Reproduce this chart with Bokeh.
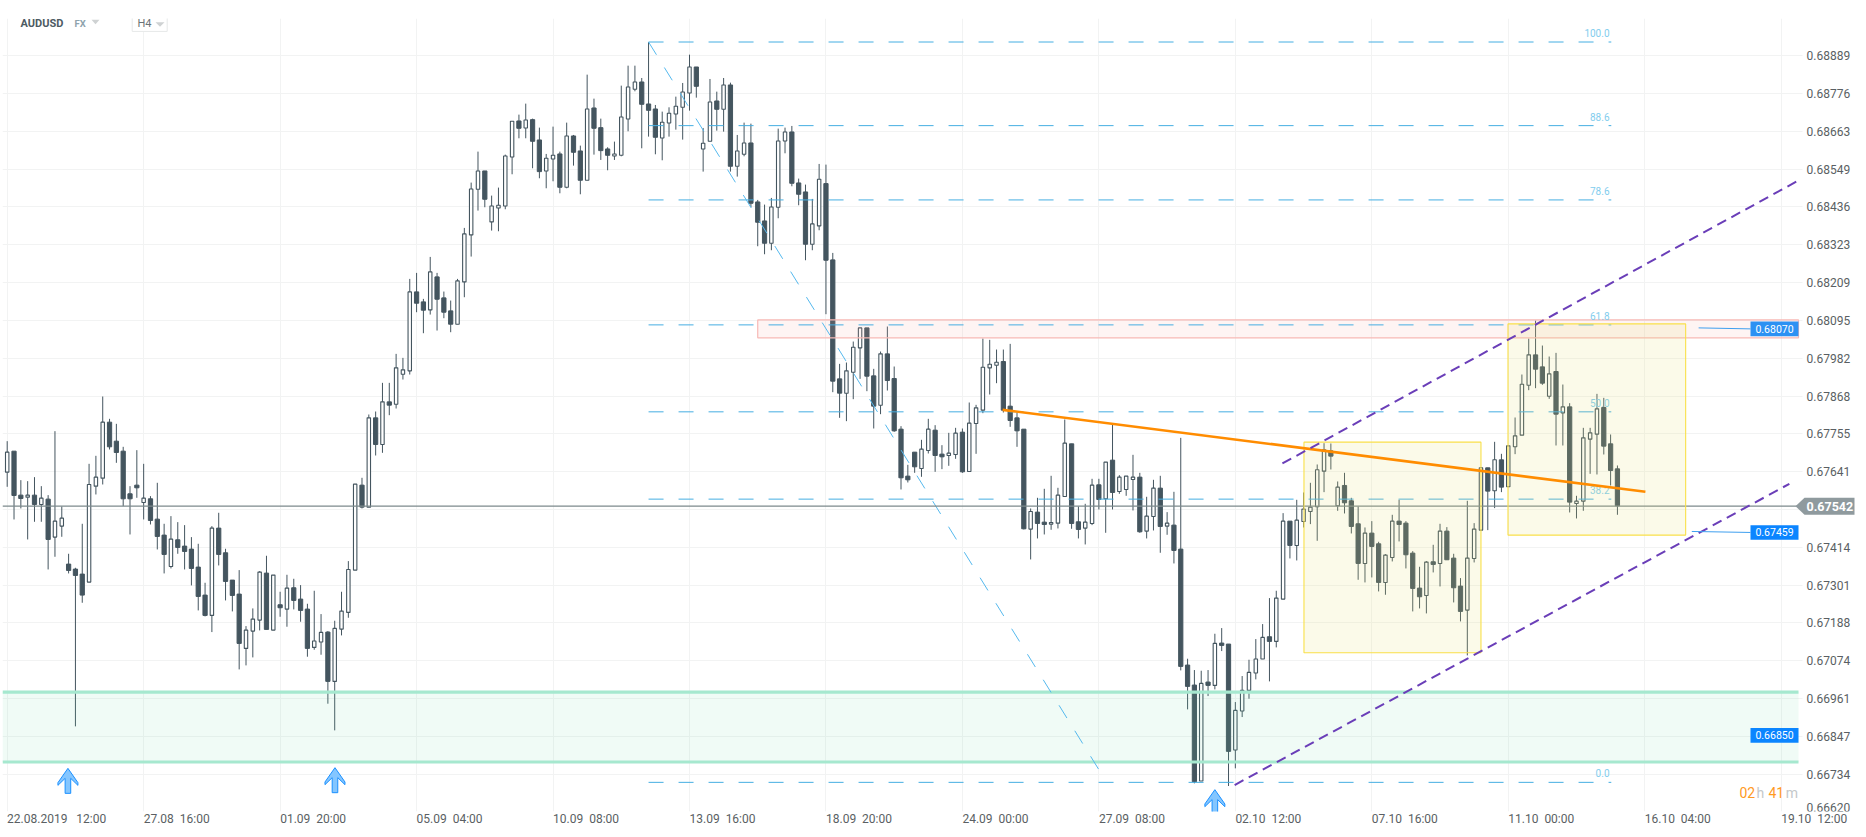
from bokeh.plotting import figure
from bokeh.models import Range1d, FixedTicker
from bokeh.core.properties import value
from bokeh.embed import file_html
from bokeh.resources import INLINE
import numpy as np

# Candles, in units of 0.00001 (bar 0 = 22.08.2019 12:00, 4-hour bars)
open_pts = [
67640,67703,67571,67565,67571,67543,67559,67445,67478,67364,67349,67334,67310,67598,67622,67790,67733,67703,67575,67601,
67549,67560,67499,67451,67357,67437,67418,67409,67355,67271,67210,67472,67398,67316,67274,67111,67163,67196,67337,67166,
67242,67229,67293,67259,67229,67114,67130,67160,67012,67169,67219,67346,67601,67535,67803,67723,67851,67844,67934,67944,
68181,68151,68127,68226,68163,68124,68084,68211,68352,68489,68544,68391,68433,68439,68586,68694,68673,68698,68637,68544,
68580,68595,68495,68649,68604,68516,68733,68674,68610,68589,68591,68700,68789,68811,68745,68730,68643,68688,68715,68735,
68778,68856,68610,68633,68754,68729,68802,68558,68594,68628,68451,68394,68327,68435,68634,68661,68508,68481,68324,68379,
68506,68277,67920,67877,67940,68013,68073,67929,67841,67995,67921,67769,67628,67700,67651,67705,67766,67694,67690,67693,
67760,67642,67786,67826,67953,67961,67972,67838,67803,67769,67469,67520,67490,67484,67487,67567,67725,67491,67472,67486,
67602,67560,67676,67582,67588,67618,67625,67463,67507,67592,67478,67481,67409,67061,67001,66713,67010,67000,67127,67124,
66806,66923,66985,67037,67079,67146,67132,67259,67493,67420,67492,67522,67536,67643,67704,67539,67600,67554,67485,67366,
67457,67425,67309,67384,67493,67487,67397,67292,67270,67371,67366,67463,67382,67298,67226,67381,67466,67653,67584,67677,
67596,67716,67751,67901,67992,67956,67868,67942,67818,67836,67546,67553,67739,67754,67834,67725,67650]
high_pts = [
67733,67703,67616,67613,67625,67598,67571,67763,67537,67395,67353,67485,67665,67689,67867,67800,67785,67716,67598,67706,
67665,67568,67608,67485,67508,67490,67481,67445,67425,67308,67478,67518,67410,67316,67346,67178,67231,67343,67389,67331,
67281,67332,67320,67301,67245,67284,67214,67163,67194,67281,67373,67604,67623,67813,67822,67908,67908,67995,67983,68220,
68238,68160,68286,68238,68182,68155,68220,68373,68509,68602,68544,68470,68494,68593,68693,68713,68746,68701,68674,68595,
68677,68602,68689,68652,68620,68833,68761,68701,68615,68632,68800,68860,68860,68823,68931,68742,68722,68735,68767,68808,
68893,68856,68673,68820,68782,68823,68809,68652,68689,68686,68457,68443,68463,68671,68674,68679,68521,68503,68460,68565,
68563,68298,67965,67969,68032,68073,68073,67950,68002,68077,67957,67778,67662,67700,67737,67800,67781,67721,67758,67773,
67771,67849,67842,68041,68037,68008,68008,68025,67819,67769,67531,67563,67590,67629,67593,67798,67725,67537,67545,67620,
67620,67670,67783,67631,67628,67692,67638,67566,67617,67629,67520,67581,67743,67080,67046,67044,67046,67155,67172,67124,
66950,67028,67077,67139,67184,67262,67284,67517,67493,67557,67579,67608,67663,67727,67726,67612,67638,67563,67537,67474,
67493,67431,67394,67512,67557,67493,67403,67356,67373,67422,67485,67475,67395,67322,67554,67487,67655,67653,67731,67695,
67719,67804,67933,68041,68095,68020,67987,67998,67903,67847,67569,67773,67773,67875,67863,67753,67660]
low_pts = [
67596,67498,67531,67438,67491,67491,67348,67386,67446,67336,66877,67248,67310,67573,67603,67708,67668,67538,67453,67563,
67498,67483,67408,67336,67351,67395,67348,67300,67225,67207,67160,67360,67255,67222,67048,67060,67084,67165,67168,67166,
67206,67176,67228,67191,67086,67107,67092,66945,66865,67150,67203,67346,67531,67535,67690,67698,67811,67831,67918,67933,
68120,68057,68113,68065,68102,68060,68084,68165,68287,68425,68435,68365,68363,68429,68534,68642,68642,68552,68522,68492,
68513,68477,68492,68560,68474,68516,68593,68577,68546,68577,68588,68663,68783,68612,68647,68594,68576,68647,68668,68638,
68725,68764,68542,68633,68665,68662,68542,68527,68588,68435,68318,68294,68306,68402,68597,68498,68441,68276,68306,68366,
68114,67880,67803,67793,67859,67920,67883,67771,67814,67885,67761,67588,67609,67638,67626,67696,67641,67649,67659,67680,
67638,67642,67695,67817,67873,67907,67819,67776,67716,67468,67378,67441,67453,67467,67471,67567,67470,67441,67423,67481,
67528,67458,67528,67575,67569,67525,67458,67441,67465,67398,67452,67366,67045,66928,66706,66713,66968,66988,67103,66698,
66751,66905,66960,67018,67079,67012,67114,67259,67381,67375,67474,67484,67434,67580,67648,67524,67516,67456,67317,67309,
67324,67282,67272,67372,67432,67351,67222,67231,67216,67339,67297,67377,67249,67192,67090,67369,67466,67466,67532,67580,
67596,67694,67751,67886,67892,67902,67860,67720,67720,67519,67501,67524,67635,67633,67693,67600,67512]
close_pts = [
67700,67570,67561,67571,67543,67562,67438,67493,67502,67345,67330,67271,67603,67625,67790,67716,67699,67560,67560,67593,
67562,67495,67447,67393,67439,67414,67402,67351,67267,67210,67472,67393,67312,67270,67126,67166,67199,67340,67168,67331,
67233,67292,67255,67225,67111,67133,67159,67012,67171,67223,67348,67604,67535,67803,67723,67851,67841,67953,67947,68181,
68147,68126,68241,68159,68120,68084,68214,68355,68490,68544,68459,68439,68441,68589,68693,68672,68697,68633,68542,68582,
68591,68495,68649,68600,68516,68730,68672,68605,68591,68595,68706,68796,68811,68744,68726,68645,68690,68717,68738,68781,
68856,68798,68627,68751,68729,68802,68558,68604,68628,68447,68390,68327,68436,68634,68661,68507,68474,68324,68385,68519,
68276,67913,67877,67944,68015,68073,67928,67838,67995,67915,67764,67623,67617,67656,67709,67769,67690,67686,67697,67757,
67641,67787,67833,67955,67964,67970,67826,67795,67764,67470,67522,67486,67483,67489,67571,67727,67486,67468,67490,67601,
67558,67670,67579,67625,67628,67625,67461,67508,67592,67477,67487,67405,67057,66997,66711,67006,67000,67126,67120,66802,
66925,66985,67039,67079,67144,67132,67262,67493,67420,67496,67529,67535,67647,67707,67688,67595,67548,67477,67366,67457,
67417,67309,67391,67493,67483,67392,67291,67266,67370,67363,67463,67377,67293,67222,67382,67469,67653,67583,67677,67595,
67719,67749,67904,67992,67949,67907,67935,67814,67836,67550,67553,67743,67758,67830,67718,67645,67539]

# Date axis
date_labels = ["22.08.2019\u00a0\u00a0\u00a012:00", "27.08\u00a0\u00a016:00", "01.09\u00a0\u00a020:00",
               "05.09\u00a0\u00a004:00", "10.09\u00a0\u00a008:00", "13.09\u00a0\u00a016:00",
               "18.09\u00a0\u00a020:00", "24.09\u00a0\u00a000:00", "27.09\u00a0\u00a008:00",
               "02.10\u00a0\u00a012:00", "07.10\u00a0\u00a016:00", "11.10\u00a0\u00a000:00",
               "16.10\u00a0\u00a004:00", "19.10\u00a0\u00a012:00"]
date_bars = [0, 20, 40, 60, 80, 100, 120, 140, 160, 180, 200, 220, 240, 260]

# Price axis
price_grid = [0.68889, 0.68776, 0.68663, 0.68549, 0.68436, 0.68323, 0.68209, 0.68095, 0.67982, 0.67868, 0.67755,
              0.67641, 0.67528, 0.67414, 0.67301, 0.67188, 0.67074, 0.66961, 0.66847, 0.66734, 0.66620]
hidden_price = 0.67528

# Fibonacci retracement
fib_names = ["100.0", "88.6", "78.6", "61.8", "50.0", "38.2", "0.0"]
fib_prices = [0.68931, 0.68680, 0.68457, 0.68082, 0.67821, 0.67559, 0.66709]
fib_start, fib_end = 94, 235.1
fib_diag_end = (160.0, 0.66747)

# Zones and drawings
red_zone = (110.0, 0.68097, 0.68043)
green_zone = (0.66980, 0.66770)
yellow_boxes = [(190.06, 216.0, 0.67730, 0.67098), (219.96, 246.0, 0.68085, 0.67451)]
orange_line = ((145.9, 0.67827), (240.1, 0.67581))
purple_upper = ((186.9, 0.67666), (262.5, 0.68515))
purple_lower = ((179.9, 0.66701), (261.2, 0.67605))
last_price = 0.67538
last_price_text = "0.67542"
tags = [("0.68070", 0.68070, "#2c91f3", 247.9), ("0.67459", 0.67459, "#0b85ff", 246.9), ("0.66850", 0.66850, "#0b85ff", None)]
arrow_bars = [8.9, 48.04, 177.0]
arrow_tips = [0.66751, 0.66753, 0.66687]


# page pixels of the reference <-> data
def bx(X):
    return (X - 6.7) / 6.823


def py(Y):
    return 0.66620 + (811.3 - Y) * 3.0013e-5


PX_X = 1 / 6.823
PX_Y = 3.0013e-5
INK = "#44555f"
FONT = "Roboto"
AXIS_TEXT = "#5a5f63"

p = figure(width=1866, height=837, output_backend="svg", toolbar_location=None,
           x_range=Range1d(bx(2), bx(1866)), y_range=Range1d(py(810.8), py(17.8)),
           x_axis_location="below", y_axis_location="right",
           min_border_left=2, min_border_right=0, min_border_top=18, min_border_bottom=26,
           background_fill_color="white", border_fill_color="white")
p.outline_line_color = None

# grids
p.xgrid.ticker = FixedTicker(ticks=date_bars)
p.ygrid.ticker = FixedTicker(ticks=price_grid)
p.xgrid.grid_line_color = "#f2f3f3"
p.ygrid.grid_line_color = "#f2f3f3"
p.xgrid.grid_line_width = 1
p.ygrid.grid_line_width = 1

# axes: labels start at the tick, so the label ticks sit half a label to the right
half_w = [7.25] + [4.84] * 13
x_label_ticks = [b + h for b, h in zip(date_bars, half_w)]
xa = p.xaxis[0]
xa.ticker = FixedTicker(ticks=x_label_ticks)
xa.major_label_overrides = {t: s for t, s in zip(x_label_ticks, date_labels)}
xa.axis_line_color = None
xa.major_tick_line_color = None
xa.minor_tick_line_color = None
xa.major_tick_out = 0
xa.major_tick_in = 0
xa.major_label_standoff = 0
xa.major_label_text_font = FONT
xa.major_label_text_font_size = "12px"
xa.major_label_text_color = AXIS_TEXT

y_label_ticks = [t for t in price_grid if t != hidden_price and t != 0.66620] + [0.66633]
y_over = {t: f"{t:.5f}" for t in y_label_ticks}
y_over[0.66633] = "0.66620"
ya = p.yaxis[0]
ya.fixed_location = bx(1798)
ya.ticker = FixedTicker(ticks=y_label_ticks)
ya.major_label_overrides = y_over
ya.axis_line_color = None
ya.major_tick_line_color = None
ya.minor_tick_line_color = None
ya.major_tick_out = 0
ya.major_tick_in = 0
ya.major_label_standoff = 8
ya.major_label_text_font = FONT
ya.major_label_text_font_size = "12px"
ya.major_label_text_color = AXIS_TEXT

# the horizontal grid stops just past the plot area
p.quad(left=bx(1802), right=bx(1866), top=py(0), bottom=py(837), fill_color="white", line_color=None)

# candles
o = np.array(open_pts) * 1e-5
h = np.array(high_pts) * 1e-5
l = np.array(low_pts) * 1e-5
c = np.array(close_pts) * 1e-5
bars = np.arange(len(o))
up = c >= o
p.segment(bars, h, bars, l, line_color=INK, line_width=1)
p.vbar(bars[up], top=c[up], bottom=o[up], width=0.5, fill_color="white", line_color=INK, line_width=1.1)
p.vbar(bars[~up], top=o[~up], bottom=c[~up], width=0.62, fill_color=INK, line_color=INK, line_width=1)

# zones
right_edge = bx(1798)
left_edge = bx(2)
p.quad(left=red_zone[0], right=right_edge, top=red_zone[1], bottom=red_zone[2],
       fill_color="#f7a8a0", fill_alpha=0.12, line_color="#f7b9b5", line_width=1.2)
p.quad(left=left_edge, right=right_edge, top=green_zone[0], bottom=green_zone[1],
       fill_color="#6fd6ab", fill_alpha=0.1, line_color=None)
p.segment([left_edge] * 2, list(green_zone), [right_edge] * 2, list(green_zone), line_color="#a6e8cf", line_width=3.2)

# Fibonacci
p.segment([fib_start] * len(fib_prices), fib_prices, [fib_end] * len(fib_prices), fib_prices,
          line_color="#45aee2", line_width=1, line_dash="15 15")
p.line([fib_start, fib_diag_end[0]], [fib_prices[0], fib_diag_end[1]],
       line_color="#55b9ee", line_width=1, line_dash="15 15")
p.text([bx(1609)] * len(fib_names), fib_prices, text=fib_names, text_align="right", text_baseline="middle",
       y_offset=-9, text_font=value(FONT), text_font_size="10px", text_color="#82cdee")

# last price line
p.line([left_edge, right_edge], [last_price, last_price], line_color="#7c8a8c", line_width=1.1)

# yellow boxes (over the candles, which they tint)
for b in yellow_boxes:
    p.quad(left=b[0], right=b[1], top=b[2], bottom=b[3], fill_color="#e5de71", fill_alpha=0.155,
           line_color="#f9e04a", line_width=1.1)

# trend lines
p.line([orange_line[0][0], orange_line[1][0]], [orange_line[0][1], orange_line[1][1]],
       line_color="#ff8c00", line_width=2.6)
for t in (purple_upper, purple_lower):
    p.line([t[0][0], t[1][0]], [t[0][1], t[1][1]], line_color="#6a3eb8", line_width=2, line_dash="10 6")

# arrows
shape_x = np.array([0, 10, 10, 2.8, 2.8, -2.8, -2.8, -10, -10]) * PX_X
shape_y = np.array([0, 14.3, 17, 10, 25, 25, 10, 17, 14.3]) * PX_Y
p.patches([list(b + shape_x) for b in arrow_bars], [list(t - shape_y) for t in arrow_tips],
          fill_color="#84c6ff", line_color="#1a90ff", line_width=1)

# value tags
tag_left = bx(1750)
for name, price, col, conn in tags:
    p.quad(left=tag_left, right=right_edge, top=price + 7.3 * PX_Y, bottom=price - 7.3 * PX_Y,
           fill_color=col, line_color=None)
    p.text([(tag_left + right_edge) / 2], [price], text=[name], text_align="center", text_baseline="middle",
           text_font=value(FONT), text_font_size="10.5px", text_color="white")
    if conn is not None:
        p.line([conn, tag_left], [price + 0.00003, price], line_color="#3fa0f0", line_width=1)

# countdown
p.text([bx(1739), bx(1756), bx(1768), bx(1785.3)], [py(792)] * 4, text=["02", "h", "41", "m"],
       text_baseline="middle", text_font=value(FONT), text_font_size="14px",
       text_color=["#ff9a1f", "#c4c8ca", "#ff9a1f", "#c4c8ca"])

# header
p.text([bx(20)], [py(22.3)], text=["AUDUSD"], text_baseline="middle", text_font=value(FONT),
       text_font_style="bold", text_font_size="11px", text_color="#4d5b63")
p.text([bx(74)], [py(22.3)], text=["FX"], text_baseline="middle", text_font=value(FONT),
       text_font_style="bold", text_font_size="9.5px", text_color="#8fa3ad")
p.quad(left=bx(131.7), right=bx(166.7), top=py(13.3), bottom=py(30.7), fill_color="white",
       line_color="#e6e8e8", line_width=1)
p.text([bx(137)], [py(22.5)], text=["H4"], text_baseline="middle", text_font=value(FONT),
       text_font_size="11px", text_color="#6b7377")
p.patches([[bx(91), bx(99), bx(95)], [bx(155), bx(164), bx(159.5)]],
          [[py(19), py(19), py(23.5)], [py(21.5), py(21.5), py(26)]], fill_color="#cfd2d3", line_color=None)

# last-price flag
p.patch([bx(1795), bx(1804), bx(1854), bx(1854), bx(1804)], [py(505.5), py(497), py(497), py(514), py(514)],
        fill_color="#8f9a9e", line_color=None)
p.text([bx(1806)], [py(505.5)], text=[last_price_text], text_baseline="middle", text_font=value(FONT),
       text_font_style="bold", text_font_size="12.5px", text_color="white")

open("out.html", "w").write(file_html(p, INLINE))
